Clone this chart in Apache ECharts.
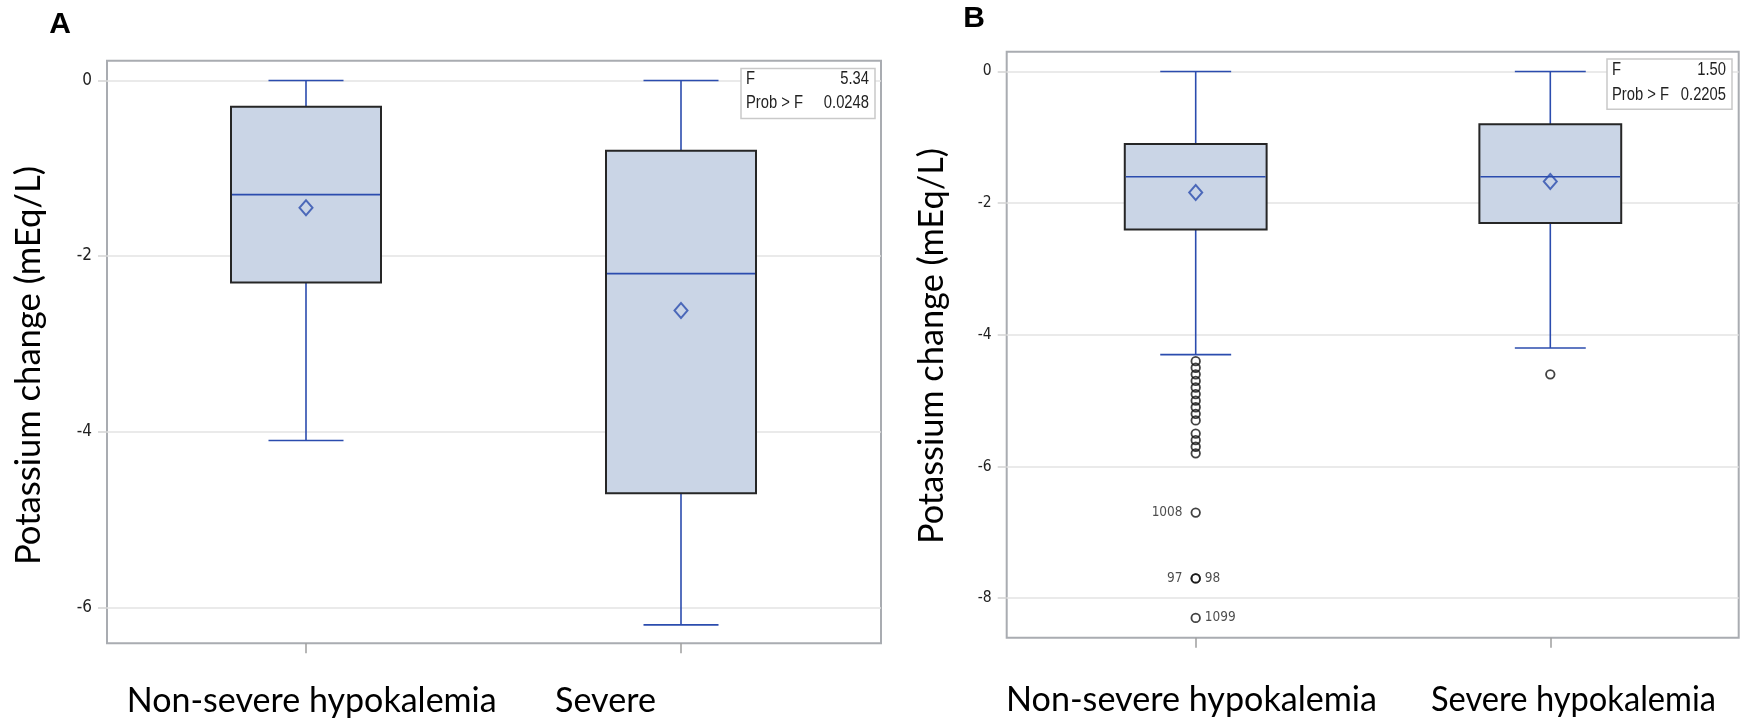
<!DOCTYPE html>
<html><head><meta charset="utf-8">
<script src="https://cdn.jsdelivr.net/npm/echarts@6/dist/echarts.min.js"></script>
<style>html,body{margin:0;padding:0;background:#fff}#c{width:1750px;height:721px}</style>
</head><body><div id="c"></div>
<script>
// ---------------- data ----------------
const categoriesA = ['Non-severe hypokalemia', 'Severe'];
const categoriesB = ['Non-severe hypokalemia', 'Severe hypokalemia'];
// each box: [min whisker, Q1, median, Q3, max whisker]
const boxA = [[-4.1, -2.3, -1.3, -0.3, 0], [-6.2, -4.7, -2.2, -0.8, 0]];
const meanA = [-1.45, -2.62];
const boxB = [[-4.3, -2.4, -1.6, -1.1, 0], [-4.2, -2.3, -1.6, -0.8, 0]];
const meanB = [-1.84, -1.67];
const outliersB0 = [-4.4, -4.5, -4.6, -4.7, -4.8, -4.9, -5.0, -5.1, -5.2, -5.3, -5.5, -5.6, -5.7, -5.8];
const outliersB1 = [-4.6];
const labeledOutliersB0 = [-6.7, -7.7, -7.7, -8.3];
const labeledOutlierIdsB0 = ['1008', '97', '98', '1099'];
const yTicksA = [0, -2, -4, -6];
const yTicksB = [0, -2, -4, -6, -8];
const yRangeA = [-6.41, 0.225];
const yRangeB = [-8.6, 0.3];
const statsA = [['F', '5.34'], ['Prob > F', '0.0248']];
const statsB = [['F', '1.50'], ['Prob > F', '0.2205']];
const panelLabels = ['A', 'B'];
const yTitle = 'Potassium change (mEq/L)';

// ---------------- styles ----------------
const BLUE = '#2B4CAE';
const BOXFILL = '#CAD5E6';
const BOXEDGE = '#262626';
const FRAME = '#A9ACB1';
const GRID = '#E3E3E3';
const BIG = 'Lato';

const mctx = document.createElement('canvas').getContext('2d');
function textWidth(text, font) { mctx.font = font; return mctx.measureText(text).width; }
function fontAvailable(name) {
  const probe = 'Prob > F 0.0248 mmmWWWiii';
  return textWidth(probe, '100px "' + name + '", monospace') !== textWidth(probe, '100px monospace');
}
const narrowCandidates = ['Liberation Sans Narrow', 'Arial Narrow', 'DejaVu Sans Condensed'];
const narrowName = narrowCandidates.find(fontAvailable);
const NARROW = narrowName ? '"' + narrowName + '"' : '"Liberation Sans", Arial, sans-serif';
const narrowIsTrue = narrowName === 'Liberation Sans Narrow' || narrowName === 'Arial Narrow';

const bigSize = textWidth('Non-severe hypokalemia', '100px ' + BIG) ? 100 * 370 / textWidth('Non-severe hypokalemia', '100px ' + BIG) : 34;

const chart = echarts.init(document.getElementById('c'), null, {renderer: 'canvas'});

function renderBox(params, api) {
  const i = api.value(0);
  const lo = api.coord([i, api.value(1)]);
  const q1 = api.coord([i, api.value(2)]);
  const md = api.coord([i, api.value(3)]);
  const q3 = api.coord([i, api.value(4)]);
  const hi = api.coord([i, api.value(5)]);
  const band = api.size([1, 0])[0];
  const bw = band * 0.4, cw = band * 0.2;
  const x = lo[0];
  const ls = {stroke: BLUE, lineWidth: 1.6};
  return {type: 'group', children: [
    {type: 'line', shape: {x1: x, y1: hi[1], x2: x, y2: q3[1]}, style: ls},
    {type: 'line', shape: {x1: x, y1: q1[1], x2: x, y2: lo[1]}, style: ls},
    {type: 'line', shape: {x1: x - cw / 2, y1: hi[1], x2: x + cw / 2, y2: hi[1]}, style: ls},
    {type: 'line', shape: {x1: x - cw / 2, y1: lo[1], x2: x + cw / 2, y2: lo[1]}, style: ls},
    {type: 'rect', shape: {x: x - bw / 2, y: q3[1], width: bw, height: q1[1] - q3[1]},
      style: {fill: BOXFILL, stroke: BOXEDGE, lineWidth: 2}},
    {type: 'line', shape: {x1: x - bw / 2 + 1, y1: md[1], x2: x + bw / 2 - 1, y2: md[1]}, style: ls}
  ]};
}

function boxData(boxes) { return boxes.map((b, i) => [i].concat(b)); }
function meanData(m) { return m.map((v, i) => [i, v]); }

function yFrameAxis(gridIndex, range, ticks, fontSize, split) {
  return {
    type: 'value', gridIndex, min: range[0], max: range[1], splitNumber: split,
    axisLine: {show: false},
    axisTick: {show: true, length: 9, lineStyle: {color: '#D4D4D4', width: 1.5}, customValues: ticks},
    axisLabel: {show: true, margin: 15, color: '#222', fontFamily: NARROW, fontSize, customValues: ticks},
    splitLine: {show: true, lineStyle: {color: GRID, width: 1.5}}
  };
}
function yHiddenAxis(gridIndex, range) {
  return {type: 'value', gridIndex, min: range[0], max: range[1], show: false, splitLine: {show: false}};
}
function xCatAxis(gridIndex, cats) {
  return {type: 'category', gridIndex, data: cats, boundaryGap: true, position: 'bottom', z: 5,
    axisLine: {show: true, onZero: false, lineStyle: {color: 'rgba(0,0,0,0)', width: 2}}, axisLabel: {show: false}, splitLine: {show: false},
    axisTick: {show: true, alignWithLabel: true, interval: 0, length: 10, lineStyle: {color: '#9E9E9E', width: 1.5}}};
}

const circleStyle = {color: 'rgba(0,0,0,0)', borderColor: '#111', borderWidth: 1.8};
const diamondStyle = {color: 'rgba(0,0,0,0)', borderColor: BLUE, borderWidth: 2};
const labelSides = ['left', 'left', 'right', 'right'];

// stats text: narrow look (scaled horizontally when a narrow face is missing)
const STAT_FONT = '18px ' + (narrowIsTrue ? NARROW : '"Liberation Sans", Arial, sans-serif');
const STAT_SCALE = narrowIsTrue ? 1 : 0.82;
function statsBox(stats, x0, y0, w, h, rowY) {
  const children = [{type: 'rect', z: 100, shape: {x: x0, y: y0, width: w, height: h},
    style: {fill: '#fff', stroke: '#C9C9C9', lineWidth: 1.5}}];
  stats.forEach((row, r) => {
    children.push({type: 'text', z: 101, x: x0 + 5, y: rowY[r], scaleX: STAT_SCALE, style: {text: row[0], font: STAT_FONT,
      fill: '#222', align: 'left', verticalAlign: 'middle'}});
    children.push({type: 'text', z: 101, x: x0 + w - 6, y: rowY[r], scaleX: STAT_SCALE, style: {text: row[1], font: STAT_FONT,
      fill: '#222', align: 'right', verticalAlign: 'middle'}});
  });
  return {type: 'group', z: 100, children};
}
function bigText(text, x, y, rot, align, target) {
  const font = bigSize.toFixed(2) + 'px ' + BIG;
  const w = textWidth(text, font);
  return {type: 'text', x, y, rotation: rot || 0, z: 100, scaleX: target && w ? target / w : 1,
    style: {text, font, fill: '#000', align: align || 'left', verticalAlign: 'middle'}};
}
function panelText(text, x, y) {
  return {type: 'text', x, y, z: 100, style: {text, fontSize: 30, fontWeight: 'bold',
    fontFamily: '"Liberation Sans", Arial, sans-serif', fill: '#000', align: 'center', verticalAlign: 'middle'}};
}

const option = {
  animation: false,
  backgroundColor: '#fff',
  grid: [
    {left: 107, top: 60.7, width: 774, height: 582.6, show: true, borderColor: FRAME, borderWidth: 2, backgroundColor: '#fff'},
    {left: 118.5, top: 60.7, width: 750, height: 582.6, show: false},
    {left: 1006.7, top: 51.7, width: 732, height: 586, show: true, borderColor: FRAME, borderWidth: 2, backgroundColor: '#fff'},
    {left: 1018.4, top: 51.7, width: 709.2, height: 586, show: false}
  ],
  xAxis: [
    {type: 'value', gridIndex: 0, show: false, splitLine: {show: false}},
    xCatAxis(1, categoriesA),
    {type: 'value', gridIndex: 2, show: false, splitLine: {show: false}},
    xCatAxis(3, categoriesB)
  ],
  yAxis: [
    yFrameAxis(0, yRangeA, yTicksA, 17, 3),
    yHiddenAxis(1, yRangeA),
    yFrameAxis(2, yRangeB, yTicksB, 15.5, 4),
    yHiddenAxis(3, yRangeB)
  ],
  series: [
    {type: 'custom', xAxisIndex: 1, yAxisIndex: 1, renderItem: renderBox, data: boxData(boxA),
      encode: {x: 0, y: [1, 2, 3, 4, 5]}, z: 2},
    {type: 'scatter', xAxisIndex: 1, yAxisIndex: 1, data: meanData(meanA), symbol: 'diamond',
      symbolSize: [13, 15], itemStyle: diamondStyle, z: 3},
    {type: 'custom', xAxisIndex: 3, yAxisIndex: 3, renderItem: renderBox, data: boxData(boxB),
      encode: {x: 0, y: [1, 2, 3, 4, 5]}, z: 2},
    {type: 'scatter', xAxisIndex: 3, yAxisIndex: 3, data: meanData(meanB), symbol: 'diamond',
      symbolSize: [13, 15], itemStyle: diamondStyle, z: 3},
    {type: 'scatter', xAxisIndex: 3, yAxisIndex: 3, symbol: 'circle', symbolSize: 8.5, itemStyle: circleStyle, z: 3,
      data: outliersB0.map(v => [0, v]).concat(outliersB1.map(v => [1, v]))},
    {type: 'scatter', xAxisIndex: 3, yAxisIndex: 3, symbol: 'circle', symbolSize: 8.5, itemStyle: circleStyle, z: 3,
      data: labeledOutliersB0.map((v, k) => ({
        value: [0, v], name: labeledOutlierIdsB0[k],
        label: {show: true, formatter: '{b}', position: labelSides[k], distance: labelSides[k] === 'left' ? 8 : 4,
          fontFamily: NARROW, fontSize: narrowIsTrue ? 15 : 13.5, color: '#222'}
      }))}
  ],
  graphic: [
    panelText(panelLabels[0], 60, 24.5),
    panelText(panelLabels[1], 974, 18.5),
    bigText(yTitle, 29, 365.5, Math.PI / 2, 'center', 399),
    bigText(yTitle, 932, 346, Math.PI / 2, 'center', 396),
    bigText(categoriesA[0], 126.7, 701, 0, 'left', 370),
    bigText(categoriesA[1], 555, 701, 0, 'left', 101),
    bigText(categoriesB[0], 1006, 700, 0, 'left', 371),
    bigText(categoriesB[1], 1431, 700, 0, 'left', 285),
    statsBox(statsA, 741, 68.5, 134, 50, [79, 103.5]),
    statsBox(statsB, 1607, 59, 125, 50.3, [70.5, 95])
  ]
};
chart.setOption(option);
</script></body></html>
